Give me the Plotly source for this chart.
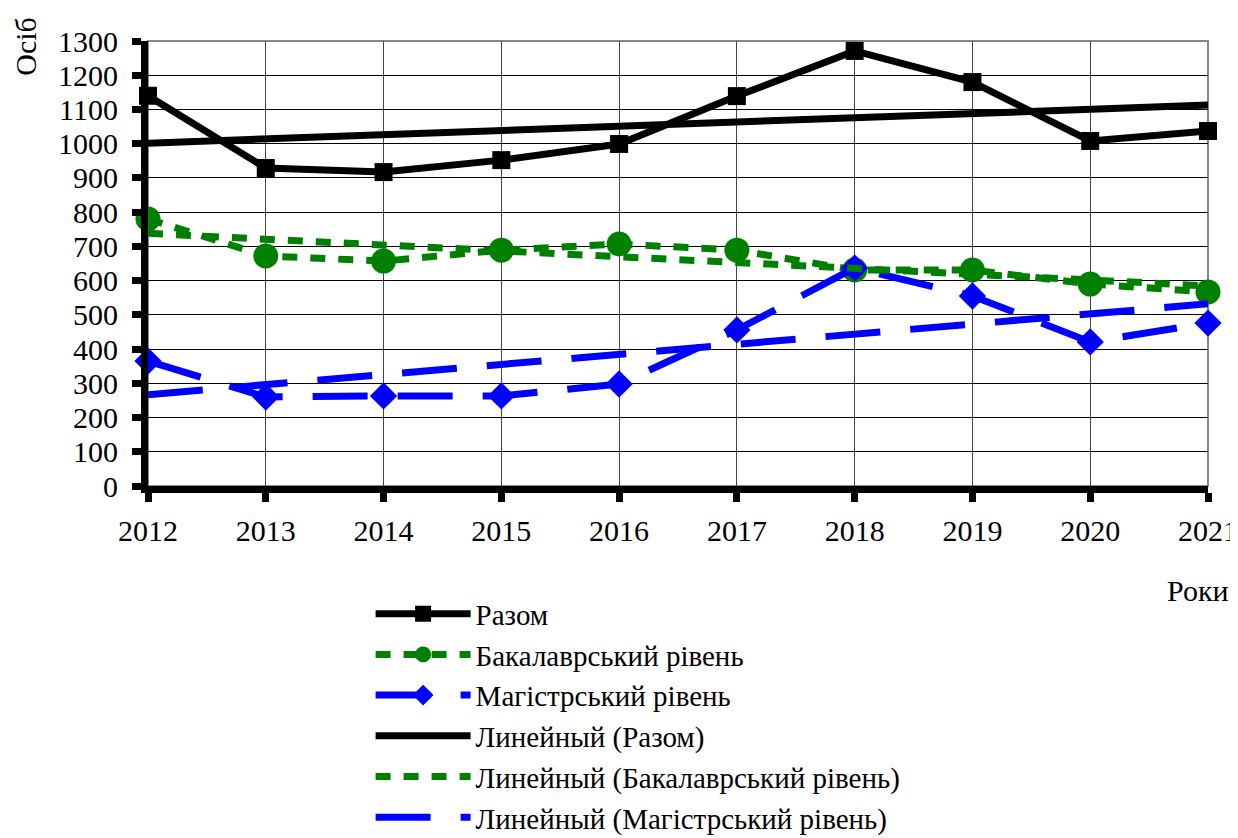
import numpy as np
import plotly.graph_objects as go

years = [2012, 2013, 2014, 2015, 2016, 2017, 2018, 2019, 2020, 2021]
total = [1140, 929, 917, 952, 999, 1139, 1271, 1180, 1008, 1037]
bachelor = [780, 672, 657, 689, 707, 689, 631, 631, 590, 567]
master = [365, 260, 263, 263, 298, 456, 637, 555, 421, 476]

names = ["Разом", "Бакалаврський рівень", "Магістрський рівень"]
trend_names = ["Линейный (Разом)", "Линейный (Бакалаврський рівень)", "Линейный (Магістрський рівень)"]

FONT = "Liberation Serif"
x = np.array(years, dtype=float)

def trend(vals):
    k, b = np.polyfit(x, np.array(vals, dtype=float), 1)
    return list(k * x + b)

fig = go.Figure()
fig.add_trace(go.Scatter(x=years, y=total, name=names[0], mode="lines+markers",
                         line=dict(color="black", width=7),
                         marker=dict(symbol="square", size=18, color="black"),
                         cliponaxis=False))
fig.add_trace(go.Scatter(x=years, y=bachelor, name=names[1], mode="lines+markers",
                         line=dict(color="#008000", width=7, dash="15px,13px"),
                         marker=dict(symbol="circle", size=25, color="#008000"),
                         cliponaxis=False))
fig.add_trace(go.Scatter(x=years, y=master, name=names[2], mode="lines+markers",
                         line=dict(color="#0000FF", width=7, dash="55px,30px"),
                         marker=dict(symbol="diamond", size=21, color="#0000FF"),
                         cliponaxis=False))
fig.add_trace(go.Scatter(x=years, y=trend(total), name=trend_names[0], mode="lines",
                         line=dict(color="black", width=7), cliponaxis=False))
fig.add_trace(go.Scatter(x=years, y=trend(bachelor), name=trend_names[1], mode="lines",
                         line=dict(color="#008000", width=7, dash="15px,13px"), cliponaxis=False))
fig.add_trace(go.Scatter(x=years, y=trend(master), name=trend_names[2], mode="lines",
                         line=dict(color="#0000FF", width=7, dash="55px,30px"), cliponaxis=False))

# page body has an 8px default margin: figure is 1230x830 placed at (8,8)
fig.update_layout(
    width=1230, height=830,
    margin=dict(l=140, r=30, t=33, b=352, autoexpand=False),
    paper_bgcolor="white", plot_bgcolor="white",
    font=dict(family=FONT, size=30, color="black"),
    showlegend=True,
    legend=dict(x=0.21, y=-0.23, xanchor="left", yanchor="top",
                font=dict(family=FONT, size=29, color="black"),
                itemwidth=95, tracegroupgap=0, bgcolor="rgba(0,0,0,0)"),
    shapes=[dict(type="rect", xref="paper", yref="paper", x0=0, x1=1, y0=0, y1=1,
                 line=dict(color="#888888", width=2), layer="below")],
    annotations=[
        dict(text="Осіб", xref="paper", yref="paper", x=-0.115, y=1.058, xanchor="center",
             yanchor="top", textangle=-90, showarrow=False,
             font=dict(family=FONT, size=30, color="black")),
        dict(text="Роки", xref="paper", yref="paper", x=1.022, y=-0.235, xanchor="right",
             yanchor="middle", showarrow=False,
             font=dict(family=FONT, size=30, color="black")),
    ],
)
fig.update_xaxes(range=[2012, 2021], tickmode="array", tickvals=years,
                 ticktext=[str(y) for y in years],
                 showgrid=True, gridcolor="#444444", gridwidth=1,
                 showline=True, linecolor="black", linewidth=7,
                 ticks="outside", ticklen=9, tickwidth=7, tickcolor="black",
                 ticklabelstandoff=3, zeroline=False,
                 tickfont=dict(family=FONT, size=30, color="black"))
fig.update_yaxes(range=[0, 1300], dtick=100,
                 showgrid=True, gridcolor="black", gridwidth=1,
                 showline=True, linecolor="black", linewidth=7,
                 ticks="outside", ticklen=9, tickwidth=7, tickcolor="black",
                 ticklabelstandoff=8, zeroline=False,
                 tickfont=dict(family=FONT, size=30, color="black"))

fig.write_html("out.html")
